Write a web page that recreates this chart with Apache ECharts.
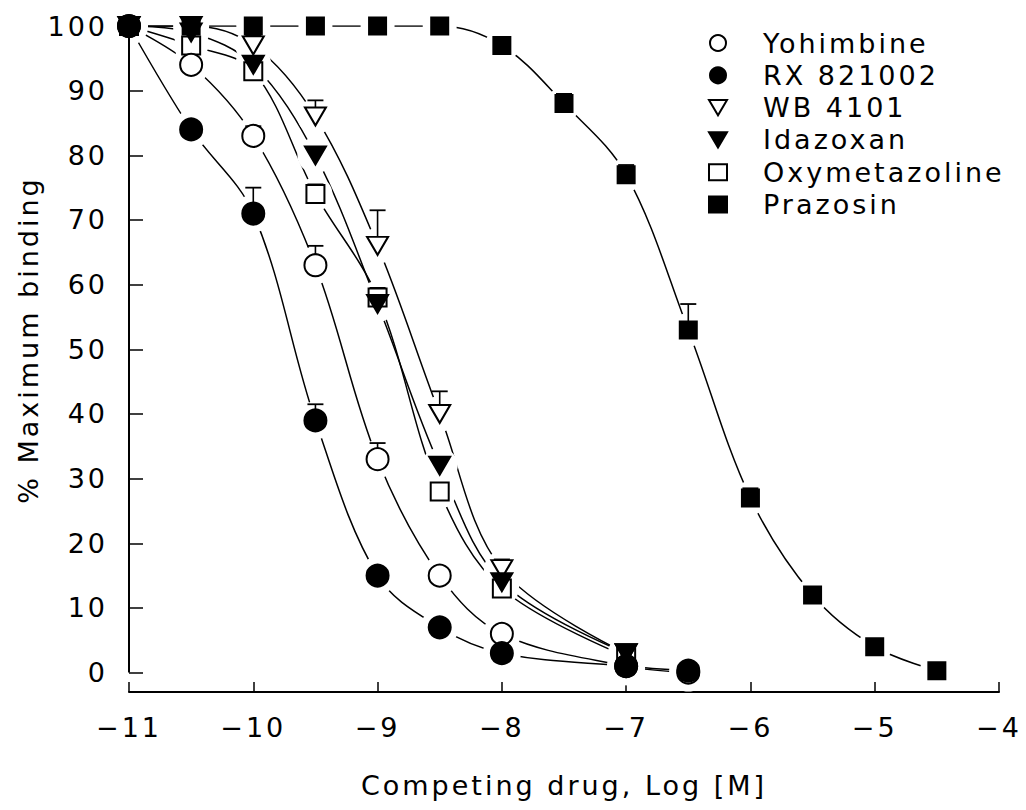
<!DOCTYPE html>
<html><head><meta charset="utf-8">
<script src="https://cdn.jsdelivr.net/npm/echarts@6/dist/echarts.min.js"></script>
<style>html,body{margin:0;padding:0;background:#fff}#c{width:1026px;height:810px;letter-spacing:3px}</style>
</head><body><div id="c"></div>
<script>
// ---- data ----
const drugs = ['Yohimbine','RX 821002','WB 4101','Idazoxan','Oxymetazoline','Prazosin'];
const xShort = [-11,-10.5,-10,-9.5,-9,-8.5,-8,-7,-6.5];
const xMid = [-11,-10.5,-10,-9.5,-9,-8.5,-8,-7];
const xPraz = [-11,-10.5,-10,-9.5,-9,-8.5,-8,-7.5,-7,-6.5,-6,-5.5,-5,-4.5];
const yohimbine = [100,94,83,63,33,15,6,1,0];
const yohimbineErr = [0,0,1.5,3,2.5,0,0,0,0];
const rx821002 = [100,84,71,39,15,7,3,1,0.3];
const rx821002Err = [0,0,4,2.5,0,0,0,0,0];
const wb4101 = [100,100,97,86,66,40,16,3];
const wb4101Err = [0,0,1.5,2.5,5.5,3.5,1.5,0];
const idazoxan = [100,99,94,80,57,32,14,3];
const idazoxanErr = [0,0,0,0,1,0,0,0];
const oxymetazoline = [100,97,93,74,58,28,13,2.5];
const oxymetazolineErr = [0,0,0,1.5,1.5,0,0,0];
const prazosin = [100,100,100,100,100,100,97,88,77,53,27,12,4,0.3];
const prazosinErr = [0,0,0,0,0,0,0,1.5,1.5,4,1.5,0,0,0];
const yTicks = [0,10,20,30,40,50,60,70,80,90,100];

const FONT = 'DejaVu Sans';
const triDown = 'path://M0,0 L20,0 L10,17 Z';

const defs = [
  {name:'Oxymetazoline', xs:xMid, ys:oxymetazoline, err:oxymetazolineErr, sym:'rect', size:18, r:9, filled:false},
  {name:'WB 4101', xs:xMid, ys:wb4101, err:wb4101Err, sym:triDown, size:[21,18], r:10, filled:false},
  {name:'Idazoxan', xs:xMid, ys:idazoxan, err:idazoxanErr, sym:triDown, size:[21,18], r:10, filled:true},
  {name:'Yohimbine', xs:xShort, ys:yohimbine, err:yohimbineErr, sym:'circle', size:22, r:11, filled:false},
  {name:'Prazosin', xs:xPraz, ys:prazosin, err:prazosinErr, sym:'rect', size:17, r:9, filled:true},
  {name:'RX 821002', xs:xShort, ys:rx821002, err:rx821002Err, sym:'circle', size:22, r:11, filled:true}
];

const series = [];
defs.forEach(d => {
  const pts = d.xs.map((x,i)=>[x,d.ys[i]]);
  // fitted-looking curve
  series.push({type:'line', name:d.name+'-curve', data:pts, smooth:0.35,
    showSymbol:false, silent:true, lineStyle:{color:'#000', width:1.5}, z:1});
  // white halo so the curve stops short of each marker
  series.push({type:'custom', name:d.name+'-halo', silent:true, z:2, data:pts,
    renderItem:(params, api)=>{
      const p = api.coord([api.value(0), api.value(1)]);
      return {type:'circle', shape:{cx:p[0], cy:p[1], r:d.r+8}, style:{fill:'#fff'}};
    }});
  // one-sided SEM bars
  series.push({type:'custom', name:d.name+'-err', silent:true, z:3,
    data:d.xs.map((x,i)=>[x,d.ys[i],d.err[i]]),
    renderItem:(params, api)=>{
      const e = api.value(2);
      if (!e) return null;
      const p0 = api.coord([api.value(0), api.value(1)]);
      const p1 = api.coord([api.value(0), api.value(1)+e]);
      return {type:'group', children:[
        {type:'line', shape:{x1:p0[0],y1:p0[1],x2:p1[0],y2:p1[1]}, style:{stroke:'#000', lineWidth:1.6}},
        {type:'line', shape:{x1:p1[0]-8,y1:p1[1],x2:p1[0]+8,y2:p1[1]}, style:{stroke:'#000', lineWidth:1.8}}
      ]};
    }});
  series.push({type:'scatter', name:d.name, data:pts, symbol:d.sym, symbolSize:d.size,
    itemStyle:{color:d.filled?'#000':'#fff', borderColor:'#000', borderWidth:2, opacity:1}, z:4});
});
// left axis line (from 0 to 100 only)
series.push({type:'line', name:'yaxisline', data:[], z:3, silent:true,
  markLine:{silent:true, symbol:['none','none'], label:{show:false}, animation:false,
    lineStyle:{color:'#000', width:2, type:'solid'},
    data:[[{coord:[-11,0]},{coord:[-11,100]}]]}});

const legendIcons = {
  'Yohimbine':{icon:'circle', itemStyle:{color:'#fff', borderColor:'#000', borderWidth:2}},
  'RX 821002':{icon:'circle', itemStyle:{color:'#000', borderColor:'#000', borderWidth:2}},
  'WB 4101':{icon:triDown, itemStyle:{color:'#fff', borderColor:'#000', borderWidth:2}},
  'Idazoxan':{icon:triDown, itemStyle:{color:'#000', borderColor:'#000', borderWidth:2}},
  'Oxymetazoline':{icon:'rect', itemStyle:{color:'#fff', borderColor:'#000', borderWidth:2}},
  'Prazosin':{icon:'rect', itemStyle:{color:'#000', borderColor:'#000', borderWidth:2}}
};

const chart = echarts.init(document.getElementById('c'), null, {renderer:'svg'});
chart.setOption({
  animation:false,
  backgroundColor:'#fff',
  grid:{left:129, right:27, top:26, bottom:118},
  legend:{
    orient:'vertical', left:708, top:29.5, padding:0, itemWidth:18, itemHeight:16, itemGap:5.3,
    selectedMode:false,
    textStyle:{fontFamily:FONT, fontSize:27, color:'#000', lineHeight:27, padding:[0,0,0,31]},
    data:drugs.map(n=>Object.assign({name:n}, legendIcons[n]))
  },
  xAxis:{
    type:'value', min:-11, max:-4, interval:1,
    axisLine:{onZero:false, lineStyle:{color:'#000', width:2}},
    axisTick:{inside:true, length:10, lineStyle:{color:'#000', width:1.5}},
    splitLine:{show:false},
    axisLabel:{fontFamily:FONT, fontSize:27, color:'#000', margin:22,
      formatter:v=>'\u2212'+Math.abs(v)},
    name:'Competing drug, Log [M]', nameLocation:'middle', nameGap:80,
    nameTextStyle:{fontFamily:FONT, fontSize:27, color:'#000'}
  },
  yAxis:{
    type:'value', min:-3, max:100,
    axisLine:{show:false},
    axisTick:{show:true, inside:true, length:14, customValues:yTicks, lineStyle:{color:'#000', width:1.5}},
    splitLine:{show:false},
    axisLabel:{fontFamily:FONT, fontSize:27, color:'#000', margin:21, customValues:yTicks},
    name:'% Maximum binding', nameLocation:'middle', nameGap:87,
    nameTextStyle:{fontFamily:FONT, fontSize:27, color:'#000', padding:[0,0,0,38]}
  },
  series:series
});
</script></body></html>
